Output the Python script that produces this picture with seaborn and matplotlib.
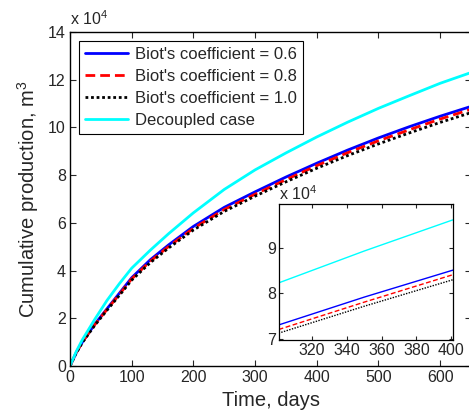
import matplotlib
matplotlib.use("Agg")
import matplotlib.pyplot as plt
import seaborn as sns
import pandas as pd

# ---- data (values in units of 10^4 m^3) ----
days = [0, 10, 20, 40, 60, 80, 100, 130, 160, 200, 250, 300, 350, 400, 450, 500, 550, 600, 650]
biot_06 = [0, 0.55, 1.0, 1.75, 2.4, 3.05, 3.7, 4.45, 5.08, 5.85, 6.65, 7.3, 7.92, 8.5, 9.05, 9.56, 10.03, 10.47, 10.88]
biot_08 = [0, 0.55, 1.0, 1.73, 2.37, 3.0, 3.65, 4.39, 5.01, 5.77, 6.56, 7.2, 7.81, 8.4, 8.94, 9.44, 9.9, 10.35, 10.76]
biot_10 = [0, 0.54, 0.98, 1.7, 2.34, 2.96, 3.6, 4.33, 4.95, 5.7, 6.48, 7.12, 7.72, 8.29, 8.82, 9.31, 9.77, 10.21, 10.62]
decoupled = [0, 0.6, 1.1, 1.95, 2.75, 3.45, 4.1, 4.85, 5.55, 6.42, 7.4, 8.22, 8.93, 9.6, 10.22, 10.8, 11.33, 11.85, 12.3]

labels = ["Biot's coefficient = 0.6", "Biot's coefficient = 0.8",
          "Biot's coefficient = 1.0", "Decoupled case"]
series = [biot_06, biot_08, biot_10, decoupled]
colors = ["#0000ff", "#ff0000", "#000000", "#00ffff"]
styles = ["-", (0, (3.5, 1.8)), (0, (1, 1)), "-"]

main_xticks = [0, 100, 200, 300, 400, 500, 600]
main_yticks = [0, 2, 4, 6, 8, 10, 12, 14]
inset_xticks = [320, 340, 360, 380, 400]
inset_yticks = [7, 8, 9]

sns.set_style("ticks")
plt.rcParams["font.family"] = ["Liberation Sans", "DejaVu Sans"]
plt.rcParams["mathtext.fontset"] = "custom"
plt.rcParams["mathtext.rm"] = "Liberation Sans"
plt.rcParams["mathtext.it"] = "Liberation Sans"

fig = plt.figure(figsize=(4.69, 4.19), dpi=100)
ax = fig.add_axes([70 / 469, 53 / 419, 401 / 469, 334 / 419])

for y, lab, c, ls in zip(series, labels, colors, styles):
    df = pd.DataFrame({"t": days, "v": y})
    sns.lineplot(data=df, x="t", y="v", ax=ax, color=c, linestyle=ls, lw=2.0, label=lab)

ax.set_xlim(0, 650)
ax.set_ylim(0, 14)
ax.set_xticks(main_xticks)
ax.set_yticks(main_yticks)
ax.tick_params(direction="in", top=True, right=True, labelsize=11.5, length=4, width=0.8, pad=3)
for s in ax.spines.values():
    s.set_color("black")
    s.set_linewidth(1.0)
ax.set_xlabel("Time, days", fontsize=14.5, labelpad=4)
ax.set_ylabel("Cumulative production, m$^3$", fontsize=14.5, labelpad=5)
ax.text(0.0, 1.012, "x 10$^4$", transform=ax.transAxes, fontsize=11.5, ha="left", va="bottom")

leg = ax.legend(loc="upper left", bbox_to_anchor=(0.022, 0.972), fontsize=12, frameon=True,
                fancybox=False, edgecolor="black", framealpha=1, handlelength=2.6,
                labelspacing=0.42, borderpad=0.35, handletextpad=0.45, borderaxespad=0)
leg.get_frame().set_linewidth(0.8)

# ---- inset ----
ins = fig.add_axes([279 / 469, 79 / 419, 174 / 469, 136 / 419])
ins.set_facecolor("white")
for y, c, ls in zip(series, colors, styles):
    df = pd.DataFrame({"t": days, "v": y})
    sns.lineplot(data=df, x="t", y="v", ax=ins, color=c, linestyle=ls, lw=1.0, legend=False)
ins.set_xlim(301, 401)
ins.set_ylim(6.98, 9.96)
ins.set_xticks(inset_xticks)
ins.set_yticks(inset_yticks)
ins.set_xlabel("")
ins.set_ylabel("")
ins.tick_params(direction="in", top=True, right=True, labelsize=11.5, length=3, width=0.8, pad=2)
for s in ins.spines.values():
    s.set_color("black")
    s.set_linewidth(0.9)
ins.text(0.0, 1.01, "x 10$^4$", transform=ins.transAxes, fontsize=11.5, ha="left", va="bottom")

fig.savefig("out.png", dpi=100)
